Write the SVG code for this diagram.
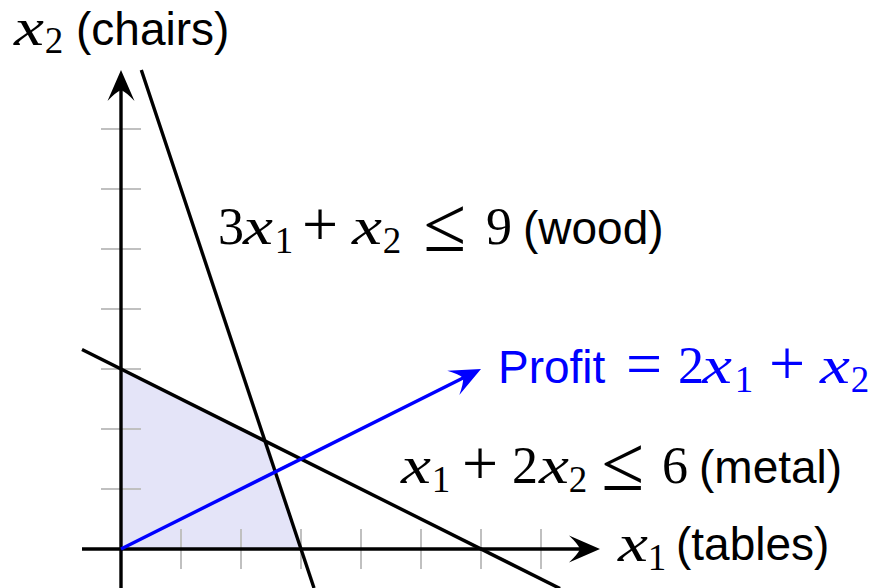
<svg xmlns="http://www.w3.org/2000/svg" width="872" height="588" viewBox="0 0 872 588">
<style>
.tick{stroke:#c0c0c0;stroke-width:2;fill:none}
.ax{stroke:#000;stroke-width:3.4;fill:none}
.ln{stroke:#000;stroke-width:3.4;fill:none}
.sans{font-family:"Liberation Sans",Arial,sans-serif;font-size:46px}
.m{font-family:"Liberation Serif","Times New Roman",serif;font-size:52px;text-anchor:middle}
.op{font-family:"Liberation Serif","Times New Roman",serif;font-size:64px;text-anchor:middle}
.le{font-family:"Liberation Serif","Times New Roman",serif;font-size:78px;text-anchor:middle}
.mi{font-family:"Liberation Serif","Times New Roman",serif;font-size:52px;font-style:italic;text-anchor:middle}
.s{font-family:"Liberation Serif","Times New Roman",serif;font-size:37px;text-anchor:middle}
</style>
<defs>
<path id="ah" d="M0,0 L-31,-13.5 Q-22,-5 -20,0 Q-22,5 -31,13.5 Z"/>
</defs>
<rect width="872" height="588" fill="#fff"/>
<g id="feasible">
<polygon points="121,549 301,549 265,441 121,369" fill="#e4e4f8"/>
</g>
<g id="ticks">
<path class="tick" d="M101,489H141M101,429H141M101,369H141M101,309H141M101,249H141M101,189H141M101,129H141"/>
<path class="tick" d="M181,529V569M241,529V569M301,529V569M361,529V569M421,529V569M481,529V569M541,529V569"/>
</g>
<g id="connectors">
<line class="ax" x1="82" y1="549" x2="586" y2="549"/>
<use href="#ah" transform="translate(600,549)"/>
<line class="ax" x1="121" y1="588" x2="121" y2="84"/>
<use href="#ah" transform="translate(121,70) rotate(-90)"/>
<line class="ln" x1="141.3" y1="70" x2="314" y2="588"/>
<line class="ln" x1="82" y1="349.5" x2="560" y2="588.5"/>
<line x1="121" y1="549" x2="468" y2="375.5" stroke="#0000ff" stroke-width="3.4"/>
<use href="#ah" fill="#0000ff" transform="translate(481,369) rotate(-26.565)"/>
</g>
<g id="label-x2">
<text class="mi" transform="translate(29,45) scale(1.3,1)">x</text>
<text class="s" x="54" y="53">2</text>
<text class="sans" x="76" y="45">(chairs)</text>
</g>
<g id="label-wood">
<text class="m" x="231" y="244">3</text>
<text class="mi" transform="translate(258,244) scale(1.3,1)">x</text>
<text class="s" x="284" y="253">1</text>
<text class="op" x="320" y="246">+</text>
<text class="mi" transform="translate(367,244) scale(1.3,1)">x</text>
<text class="s" x="392" y="253">2</text>
<text class="le" x="445" y="251">≤</text>
<text class="m" x="499" y="244">9</text>
<text class="sans" x="523" y="244">(wood)</text>
</g>
<g id="label-profit" fill="#0000ff">
<text class="sans" x="498" y="383">Profit</text>
<text class="op" x="644" y="385">=</text>
<text class="m" x="691" y="383">2</text>
<text class="mi" transform="translate(717,383) scale(1.3,1)">x</text>
<text class="s" x="744" y="392">1</text>
<text class="op" x="787" y="385">+</text>
<text class="mi" transform="translate(835,383) scale(1.3,1)">x</text>
<text class="s" x="860" y="392">2</text>
</g>
<g id="label-metal">
<text class="mi" transform="translate(416,483) scale(1.3,1)">x</text>
<text class="s" x="441" y="492">1</text>
<text class="op" x="480" y="485">+</text>
<text class="m" x="525" y="483">2</text>
<text class="mi" transform="translate(554,483) scale(1.3,1)">x</text>
<text class="s" x="578" y="492">2</text>
<text class="le" x="623" y="490">≤</text>
<text class="m" x="675" y="483">6</text>
<text class="sans" x="699" y="483">(metal)</text>
</g>
<g id="label-x1">
<text class="mi" transform="translate(633,561) scale(1.3,1)">x</text>
<text class="s" x="657" y="570">1</text>
<text class="sans" x="676" y="560">(tables)</text>
</g>
</svg>
